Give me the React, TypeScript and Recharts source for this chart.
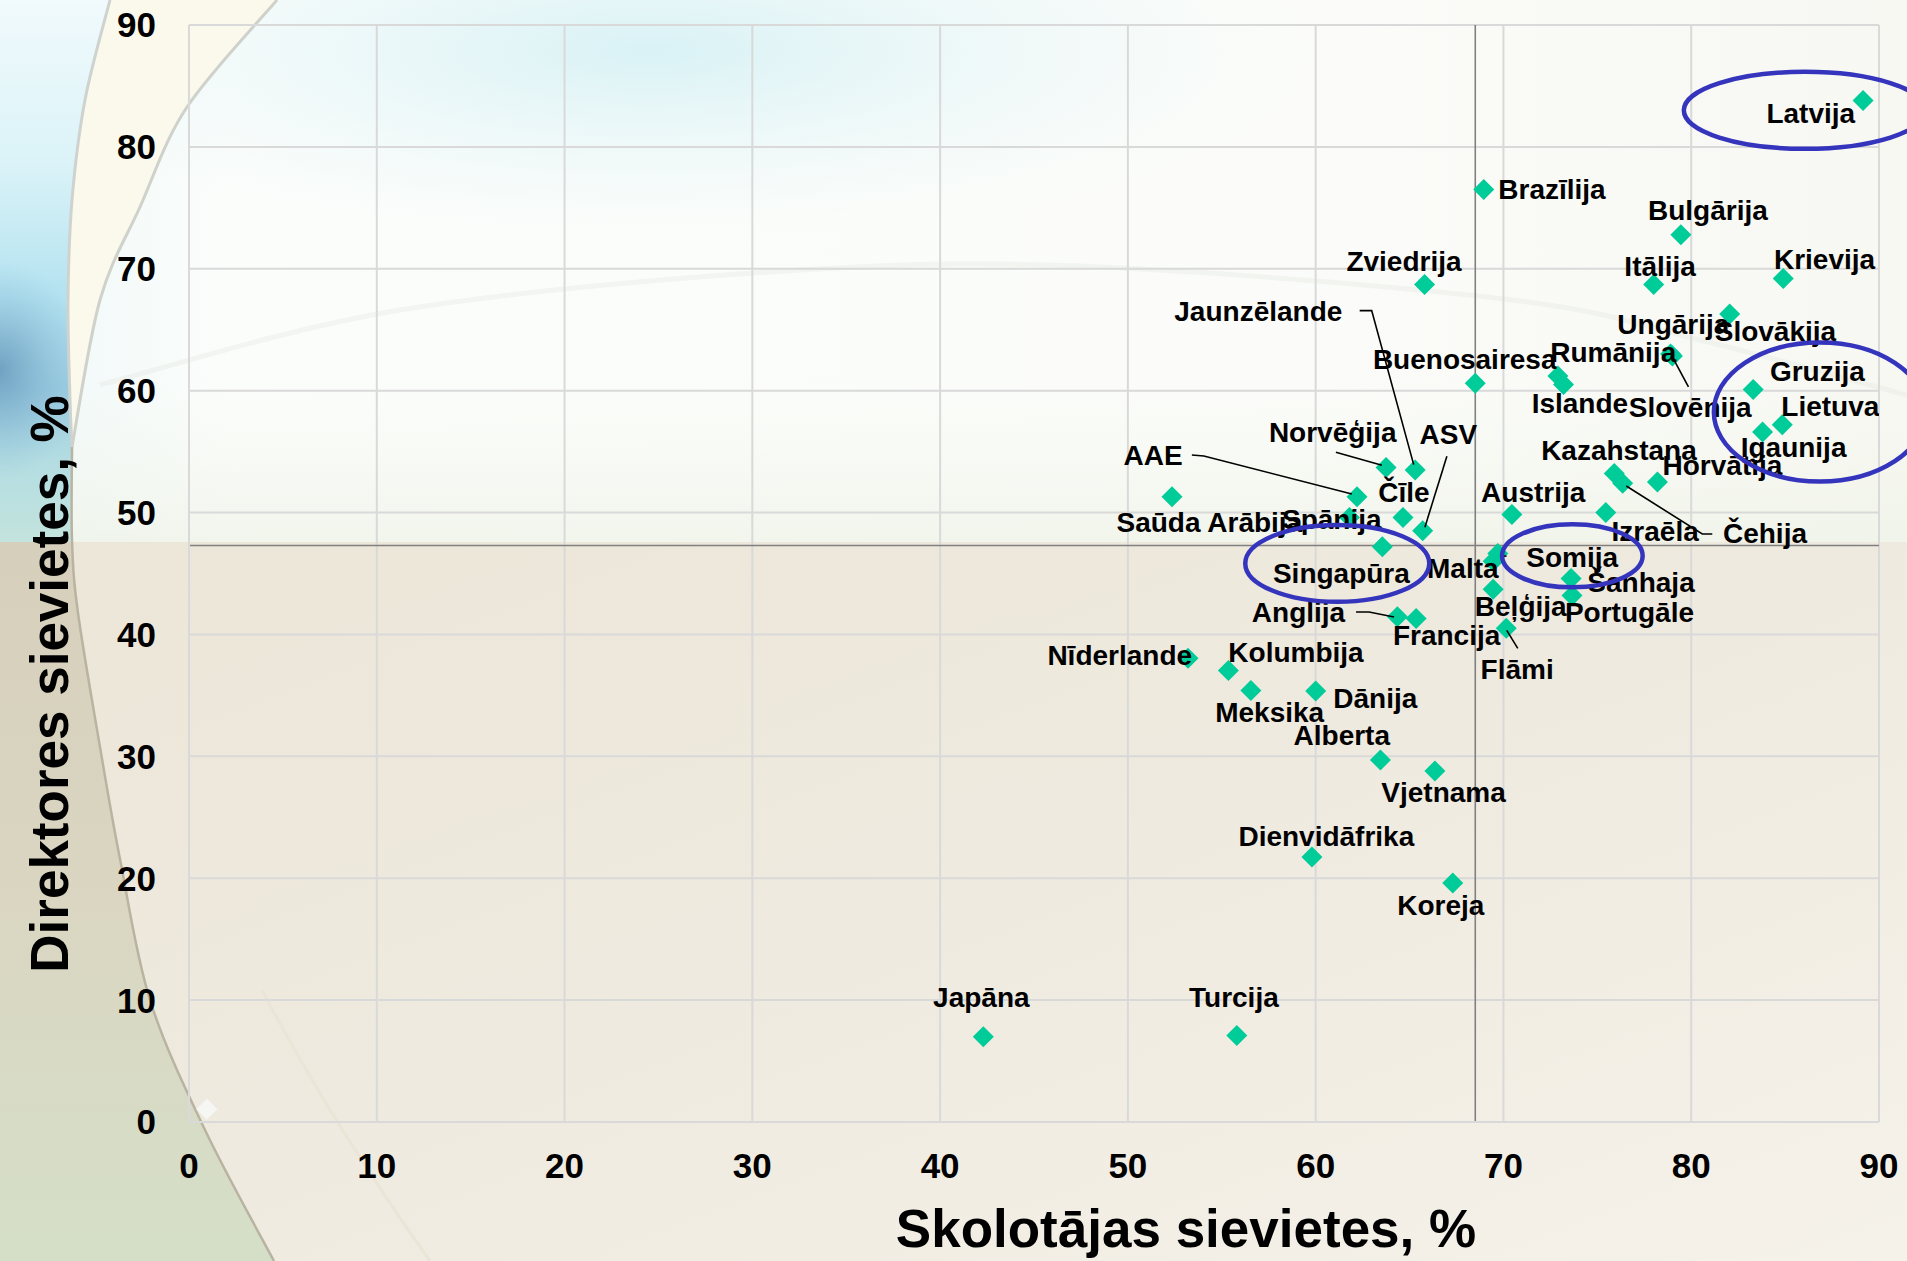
import React from 'react';
import { ScatterChart, Scatter, XAxis, YAxis, CartesianGrid, ReferenceLine, ReferenceDot } from 'recharts';

const W = 1907;
const H = 1261;
const FONT = '"Liberation Sans", Arial, Helvetica, sans-serif';

// ---------------- DATA ----------------
const countries = [
  'Latvija', 'Brazīlija', 'Bulgārija', 'Zviedrija', 'Itālija', 'Krievija', 'Slovākija', 'Ungārija',
  'Slovēnija', 'Rumānija', 'Islande', 'Buenosairesa', 'Gruzija', 'Lietuva', 'Igaunija', 'Norvēģija',
  'Jaunzēlande', 'AAE', 'Saūda Arābija', 'Kazahstana', 'Čehija', 'Horvātija', 'Čīle', 'ASV',
  'Austrija', 'Izraēla', 'Spānija', 'Singapūra', 'Malta', 'Somija', 'Šanhaja', 'Portugāle',
  'Beļģija', 'Flāmi', 'Anglija', 'Francija', 'Nīderlande', 'Kolumbija', 'Meksika', 'Dānija',
  'Alberta', 'Vjetnama', 'Dienvidāfrika', 'Koreja', 'Japāna', 'Turcija',
];

// Skolotājas sievietes, %
const teacherShares = [
  89.15, 68.95, 79.45, 65.8, 78.0, 84.9, 82.05, 78.9,
  79.0, 72.9, 73.2, 68.5, 83.3, 84.85, 83.8, 63.75,
  65.3, 62.2, 52.35, 75.9, 76.35, 78.2, 64.65, 65.7,
  70.45, 75.45, 61.8, 63.55, 69.45, 69.7, 73.6, 73.65,
  69.45, 70.15, 64.35, 65.35, 53.2, 55.35, 56.55, 60.0,
  63.45, 66.35, 59.8, 67.3, 42.3, 55.8,
];

// Direktores sievietes, %
const principalShares = [
  83.8, 76.5, 72.8, 68.7, 68.7, 69.2, 66.3, 63.0,
  62.85, 61.2, 60.5, 60.6, 60.1, 57.2, 56.6, 53.7,
  53.5, 51.3, 51.3, 53.2, 52.4, 52.5, 49.6, 48.5,
  49.85, 50.0, 49.6, 47.2, 46.0, 46.65, 44.6, 43.2,
  43.7, 40.5, 41.45, 41.3, 38.05, 37.05, 35.4, 35.35,
  29.7, 28.8, 21.75, 19.6, 7.0, 7.1,
];

const axisTicks = [0, 10, 20, 30, 40, 50, 60, 70, 80, 90];
const averageTeachers = 68.5;
const averagePrincipals = 47.3;
const cornerMarker = [{ x: 0.95, y: 1.05 }];

// circled groups (centres in data units)
const circleCentersX = [86.05, 86.85, 61.15, 73.67];
const circleCentersY = [83.0, 58.25, 45.83, 46.45];

// ---------------- STYLE / LAYOUT ----------------
const circleRadiiPx = [
  [121, 38.5],
  [106, 69.5],
  [92, 38.4],
  [70.3, 31.5],
];

type Layout = { dx: number; dy: number; leader?: number[][] };
const labelLayout: Record<string, Layout> = {
  'Latvija': { dx: -96.6, dy: 22.6 },
  'Brazīlija': { dx: 14.6, dy: 9 },
  'Bulgārija': { dx: -32.9, dy: -14.3 },
  'Zviedrija': { dx: -78.2, dy: -13.3 },
  'Itālija': { dx: -29.3, dy: -9 },
  'Krievija': { dx: -9.3, dy: -10 },
  'Slovākija': { dx: -15, dy: 26.7 },
  'Ungārija': { dx: -53.2, dy: -20 },
  'Slovēnija': { dx: -43.7, dy: 61.3, leader: [[16, 31], [1, 3]] },
  'Rumānija': { dx: -7.7, dy: -13.7 },
  'Islande': { dx: -31.9, dy: 28.3 },
  'Buenosairesa': { dx: -102.4, dy: -14.4 },
  'Gruzija': { dx: 16.7, dy: -8.6 },
  'Lietuva': { dx: -1, dy: -9 },
  'Igaunija': { dx: -21.9, dy: 25 },
  'Norvēģija': { dx: -117.2, dy: -25.1, leader: [[-50.2, -15.3], [-4.2, -2.3]] },
  'Jaunzēlande': { dx: -240.9, dy: -148.6, leader: [[-55.5, -159.3], [-43.5, -159.3], [-1.5, -5.3]] },
  'AAE': { dx: -233.4, dy: -31.7, leader: [[-165.1, -41.7], [-153.1, -40.7], [-5.1, -2.7]] },
  'Saūda Arābija': { dx: -55.5, dy: 35 },
  'Kazahstana': { dx: -73.1, dy: -13.3 },
  'Čehija': { dx: 100.3, dy: 60, leader: [[89.6, 50.7], [79.6, 50.7], [3.6, 2.7]] },
  'Horvātija': { dx: 5.1, dy: -6.7 },
  'Čīle': { dx: -24.7, dy: -15.6 },
  'ASV': { dx: -3.2, dy: -86.7, leader: [[24.2, -74.7], [2.2, -3.7]] },
  'Austrija': { dx: -30.8, dy: -12.6 },
  'Izraēla': { dx: 5.8, dy: 28.3 },
  'Spānija': { dx: -67.5, dy: 11.6 },
  'Singapūra': { dx: -109.4, dy: 36.6 },
  'Malta': { dx: -66.1, dy: 16.6 },
  'Somija': { dx: 28.4, dy: 13.4, leader: [[8.7, 2.7], [2.7, 2.7]] },
  'Šanhaja': { dx: 16.3, dy: 13.4 },
  'Portugāle': { dx: -7.1, dy: 26.7 },
  'Beļģija': { dx: -18.3, dy: 26.7 },
  'Flāmi': { dx: -25.7, dy: 50.3, leader: [[11.5, 20], [0.5, 2]] },
  'Anglija': { dx: -145.5, dy: 5, leader: [[-41.3, -4.7], [-28.3, -4.7], [-3.3, 0.3]] },
  'Francija': { dx: -23.2, dy: 26.7 },
  'Nīderlande': { dx: -140.6, dy: 6.7 },
  'Kolumbija': { dx: 0, dy: -8.3 },
  'Meksika': { dx: -35.7, dy: 31.7 },
  'Dānija': { dx: 17.6, dy: 17.3 },
  'Alberta': { dx: -86.9, dy: -15 },
  'Vjetnama': { dx: -53.6, dy: 30.7 },
  'Dienvidāfrika': { dx: -73.5, dy: -10.7 },
  'Koreja': { dx: -55.5, dy: 32.3 },
  'Japāna': { dx: -50.2, dy: -29.7 },
  'Turcija': { dx: -47.8, dy: -28 },
};

const points = countries.map((name, i) => ({ name, x: teacherShares[i], y: principalShares[i] }));
const circles = circleCentersX.map((x, i) => ({ x, y: circleCentersY[i], rx: circleRadiiPx[i][0], ry: circleRadiiPx[i][1] }));

// ---------------- SHAPES ----------------
const Diamond = (props: any) => {
  const { cx, cy, fill } = props;
  if (cx == null || cy == null) return <g />;
  const r = 10.5;
  return <polygon points={`${cx},${cy - r} ${cx + r},${cy} ${cx},${cy + r} ${cx - r},${cy}`} fill={fill} />;
};

const CountryLabel = (props: any) => {
  const { cx, cy, payload } = props;
  if (cx == null || cy == null || !payload) return <g />;
  const lay = labelLayout[payload.name] || { dx: 12, dy: 10 };
  return (
    <g>
      {lay.leader && (
        <polyline
          points={lay.leader.map((p) => `${cx + p[0]},${cy + p[1]}`).join(' ')}
          fill="none"
          stroke="#000"
          strokeWidth={1.6}
        />
      )}
      <text x={cx + lay.dx} y={cy + lay.dy} fontSize={28} fontWeight="bold" fontFamily={FONT} fill="#000">
        {payload.name}
      </text>
    </g>
  );
};

function smoothPath(pts: number[][], move = true) {
  let d = move ? `M ${pts[0][0]} ${pts[0][1]}` : `L ${pts[0][0]} ${pts[0][1]}`;
  for (let i = 0; i < pts.length - 1; i++) {
    const p0 = pts[i - 1] || pts[i];
    const p1 = pts[i];
    const p2 = pts[i + 1];
    const p3 = pts[i + 2] || p2;
    const c1 = [p1[0] + (p2[0] - p0[0]) / 6, p1[1] + (p2[1] - p0[1]) / 6];
    const c2 = [p2[0] - (p3[0] - p1[0]) / 6, p2[1] - (p3[1] - p1[1]) / 6];
    d += ` C ${c1[0]} ${c1[1]} ${c2[0]} ${c2[1]} ${p2[0]} ${p2[1]}`;
  }
  return d;
}

const innerUpper = [[277, 0], [187, 107], [140, 207], [100, 300], [72, 447]];
const innerLower = [[72, 447], [72, 540], [78, 613], [100, 747], [120, 859], [150, 1000], [205, 1130], [274, 1261]];
const outerArc = [[110, 0], [85, 100], [72, 200], [68, 300], [70, 400], [72, 447]];
const faintArc = [[100, 385], [400, 310], [800, 270], [1100, 267], [1512, 300], [1700, 340], [1907, 395]];

const Background = () => {
  const rev = (a: number[][]) => [...a].reverse();
  return (
    <svg width={W} height={H} style={{ position: 'absolute', left: 0, top: 0 }}>
      <defs>
        <linearGradient id="topBg" x1="0" y1="0" x2="1" y2="0">
          <stop offset="0" stopColor="#eef8f8" />
          <stop offset="0.12" stopColor="#fbfdfb" />
          <stop offset="0.7" stopColor="#fbfcf9" />
          <stop offset="1" stopColor="#f7f8f2" />
        </linearGradient>
        <linearGradient id="topBgV" x1="0" y1="0" x2="0" y2="1">
          <stop offset="0" stopColor="#ffffff" stopOpacity="0" />
          <stop offset="0.7" stopColor="#f4f7ee" stopOpacity="0" />
          <stop offset="1" stopColor="#eef2e6" stopOpacity="0.7" />
        </linearGradient>
        <radialGradient id="topGlow" cx="650" cy="50" r="420" gradientUnits="userSpaceOnUse" gradientTransform="translate(650 50) scale(1.6 0.45) translate(-650 -50)">
          <stop offset="0" stopColor="#cdeef4" stopOpacity="0.75" />
          <stop offset="1" stopColor="#e6f6f8" stopOpacity="0" />
        </radialGradient>
        <linearGradient id="bottomBg" x1="0" y1="0" x2="1" y2="1">
          <stop offset="0" stopColor="#ece6d8" />
          <stop offset="0.5" stopColor="#efeadf" />
          <stop offset="1" stopColor="#f5f2ea" />
        </linearGradient>
        <linearGradient id="leftBlue" x1="0" y1="0" x2="0" y2="542" gradientUnits="userSpaceOnUse">
          <stop offset="0" stopColor="#f1fafc" />
          <stop offset="0.3" stopColor="#dbf3f8" />
          <stop offset="0.55" stopColor="#b3e2f0" />
          <stop offset="0.72" stopColor="#9ccde2" />
          <stop offset="0.85" stopColor="#b4dde2" />
          <stop offset="1" stopColor="#c3e3dd" />
        </linearGradient>
        <radialGradient id="leftDark" cx="0" cy="370" r="110" gradientUnits="userSpaceOnUse" gradientTransform="translate(0 370) scale(0.8 1) translate(0 -370)">
          <stop offset="0" stopColor="#6e9fbf" stopOpacity="0.95" />
          <stop offset="1" stopColor="#8fc3dc" stopOpacity="0" />
        </radialGradient>
        <linearGradient id="leftLower" x1="0" y1="542" x2="0" y2="1261" gradientUnits="userSpaceOnUse">
          <stop offset="0" stopColor="#d6cfbc" />
          <stop offset="0.5" stopColor="#dad6c2" />
          <stop offset="1" stopColor="#d5dfc8" />
        </linearGradient>
      </defs>
      <rect x={0} y={0} width={W} height={542} fill="url(#topBg)" />
      <rect x={0} y={0} width={W} height={542} fill="url(#topBgV)" />
      <rect x={0} y={0} width={W} height={300} fill="url(#topGlow)" />
      <rect x={0} y={542} width={W} height={H - 542} fill="url(#bottomBg)" />
      <path d={`M 0 0 L 110 0 ${smoothPath(outerArc, false)} L 72 542 L 0 542 Z`} fill="url(#leftBlue)" />
      <path d={`M 0 0 L 110 0 ${smoothPath(outerArc, false)} L 72 542 L 0 542 Z`} fill="url(#leftDark)" />
      <path d={`${smoothPath(outerArc)} ${smoothPath(rev(innerUpper), false)} Z`} fill="#fbf8ec" />
      <path d={`M 0 542 L 72 542 ${smoothPath(innerLower.slice(1), false)} L 0 1261 Z`} fill="url(#leftLower)" />
      <path d={smoothPath(outerArc)} fill="none" stroke="#cfd3cf" strokeWidth={3} />
      <path d={smoothPath(innerUpper)} fill="none" stroke="#cfd1cb" strokeWidth={3} />
      <path d={smoothPath(innerLower)} fill="none" stroke="#b9b3a1" strokeWidth={2.5} />
      <path d={smoothPath(faintArc)} fill="none" stroke="#e2e4df" strokeOpacity={0.35} strokeWidth={5} />
      <path d="M 262 990 Q 330 1120 430 1261" fill="none" stroke="#ebe5d7" strokeWidth={3} />
    </svg>
  );
};

const Titles = () => (
  <svg width={W} height={H} style={{ position: 'absolute', left: 0, top: 0, pointerEvents: 'none' }}>
    <text x={1186} y={1247} textAnchor="middle" fontSize={53} fontWeight="bold" fontFamily={FONT} fill="#000">
      Skolotājas sievietes, %
    </text>
    <text
      x={68}
      y={684}
      transform="rotate(-90, 68, 684)"
      textAnchor="middle"
      fontSize={53}
      fontWeight="bold"
      fontFamily={FONT}
      fill="#000"
    >
      Direktores sievietes, %
    </text>
  </svg>
);

const CircleShape = (props: any) => {
  const { cx, cy, payloadRx, payloadRy } = props;
  return <ellipse cx={cx} cy={cy} rx={payloadRx} ry={payloadRy} fill="none" stroke="#3434bd" strokeWidth={4.5} />;
};

export default function App() {
  const tickStyle = { fontSize: 35, fontWeight: 'bold' as const, fontFamily: FONT, fill: '#000' };
  return (
    <div style={{ position: 'absolute', left: 0, top: 0, width: W, height: H, overflow: 'hidden' }}>
      <Background />
      <div style={{ position: 'absolute', left: 0, top: 0 }}>
        <ScatterChart width={W} height={H} margin={{ top: 25, right: 28, bottom: 0, left: 0 }}>
          <CartesianGrid stroke="#d9d9d9" strokeWidth={2} />
          <XAxis
            type="number"
            dataKey="x"
            domain={[0, 90]}
            ticks={axisTicks}
            interval={0}
            height={139}
            tickLine={false}
            tickSize={0}
            tickMargin={31}
            axisLine={{ stroke: '#d9d9d9', strokeWidth: 2 }}
            tick={tickStyle}
            allowDataOverflow
          />
          <YAxis
            type="number"
            dataKey="y"
            domain={[0, 90]}
            ticks={axisTicks}
            interval={0}
            width={189}
            tickLine={false}
            tickSize={0}
            tickMargin={33}
            axisLine={{ stroke: '#d9d9d9', strokeWidth: 2 }}
            tick={tickStyle}
            allowDataOverflow
          />
          <ReferenceLine x={averageTeachers} stroke="#808080" strokeWidth={1.6} />
          <ReferenceLine y={averagePrincipals} stroke="#808080" strokeWidth={1.6} />
          <Scatter
            data={cornerMarker}
            fill="#f6f6f4"
            isAnimationActive={false}
            shape={(p: any) => <Diamond {...p} fill="#f6f6f4" />}
          />
          <Scatter
            data={points}
            fill="#00cc99"
            isAnimationActive={false}
            shape={(p: any) => <Diamond {...p} fill="#00cc99" />}
          />
          <Scatter
            data={points}
            fill="#000"
            isAnimationActive={false}
            shape={(p: any) => <CountryLabel {...p} />}
          />
          {circles.map((c, i) => (
            <ReferenceDot
              key={i}
              x={c.x}
              y={c.y}
              r={1}
              ifOverflow="visible"
              shape={(p: any) => <CircleShape {...p} payloadRx={c.rx} payloadRy={c.ry} />}
            />
          ))}
        </ScatterChart>
      </div>
      <Titles />
    </div>
  );
}
